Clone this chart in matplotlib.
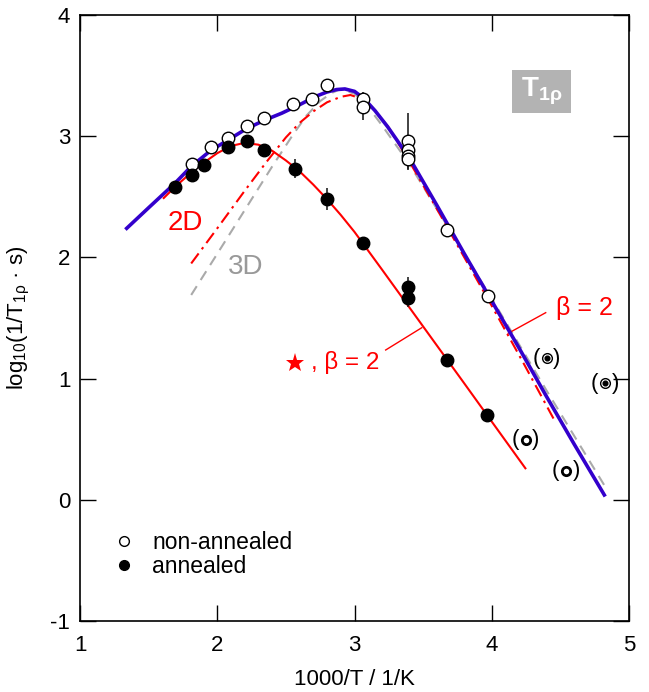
import numpy as np
import matplotlib
matplotlib.use("Agg")
import matplotlib.pyplot as plt
from matplotlib.lines import Line2D
from matplotlib.patches import Rectangle

plt.rcParams['font.family'] = ['Liberation Sans', 'DejaVu Sans']
plt.rcParams['mathtext.fontset'] = 'custom'
plt.rcParams['mathtext.rm'] = 'Liberation Sans'
plt.rcParams['mathtext.it'] = 'Liberation Sans'
plt.rcParams['mathtext.bf'] = 'Liberation Sans:bold'
plt.rcParams['mathtext.default'] = 'regular'
plt.rcParams['axes.unicode_minus'] = False

# non-annealed (open circles)
x_open   = [1.814, 1.954, 2.076, 2.214, 2.34, 2.554, 2.688, 2.80, 3.06, 3.06,
            3.387, 3.387, 3.387, 3.387, 3.674, 3.97]
y_open   = [2.771, 2.913, 2.983, 3.084, 3.153, 3.263, 3.304, 3.425, 3.304, 3.243,
            2.963, 2.89, 2.835, 2.81, 2.226, 1.684]
err_open = [0, 0, 0.03, 0, 0, 0.05, 0.05, 0, 0.06, 0.11,
            0.23, 0, 0, 0.09, 0, 0]

# annealed (filled circles)
x_fill   = [1.69, 1.814, 1.90, 2.076, 2.214, 2.34, 2.566, 2.80, 3.06, 3.387, 3.387, 3.676, 3.963]
y_fill   = [2.58, 2.68, 2.762, 2.908, 2.96, 2.884, 2.732, 2.484, 2.116, 1.758, 1.667, 1.153, 0.702]
err_fill = [0, 0, 0, 0, 0.03, 0.04, 0.08, 0.09, 0.05, 0.08, 0.08, 0, 0]

# fit curves
x_blue = [1.34, 1.5, 1.69, 1.81, 1.95, 2.08, 2.21, 2.34, 2.47, 2.6, 2.72, 2.80, 2.87, 2.93,
          3.0, 3.07, 3.15, 3.24, 3.32, 3.40, 3.6, 3.8, 4.0, 4.2, 4.4, 4.6, 4.82]
y_blue = [2.24, 2.41, 2.61, 2.75, 2.88, 2.97, 3.06, 3.13, 3.19, 3.26, 3.33, 3.365, 3.385, 3.39,
          3.37, 3.31, 3.21, 3.08, 2.95, 2.82, 2.43, 2.03, 1.64, 1.25, 0.85, 0.46, 0.04]

x_red = [1.61, 1.7, 1.8, 1.9, 2.0, 2.1, 2.2, 2.3, 2.4, 2.5, 2.6, 2.7, 2.8, 2.9, 3.0,
         3.2, 3.5, 3.8, 4.0, 4.245]
y_red = [2.49, 2.59, 2.69, 2.78, 2.86, 2.92, 2.945, 2.93, 2.88, 2.80, 2.71, 2.60, 2.48,
         2.35, 2.21, 1.90, 1.43, 0.96, 0.645, 0.26]

x_2d = [1.81, 2.0, 2.2, 2.36, 2.5, 2.6, 2.7, 2.8, 2.9, 2.97, 3.05, 3.15, 3.25, 3.4, 3.6,
        4.0, 4.23, 4.45]
y_2d = [1.95, 2.24, 2.55, 2.79, 2.99, 3.11, 3.205, 3.28, 3.325, 3.34, 3.31, 3.21, 3.07,
        2.79, 2.40, 1.60, 1.13, 0.67]

x_3d = [1.81, 2.0, 2.2, 2.4, 2.55, 2.65, 2.75, 2.83, 2.9, 3.0, 3.1, 3.2, 3.3, 3.4, 3.6,
        4.0, 4.4, 4.82]
y_3d = [1.69, 2.03, 2.39, 2.75, 3.01, 3.17, 3.29, 3.355, 3.39, 3.35, 3.24, 3.09, 2.93,
        2.77, 2.40, 1.66, 0.90, 0.12]

# bracketed points
x_bull = [4.400, 4.825]
y_bull = [1.167, 0.961]
x_ring = [4.247, 4.541]
y_ring = [0.495, 0.24]

fig = plt.figure(figsize=(6.49, 6.92), dpi=100)
ax = fig.add_axes([0.1233, 0.1026, 0.8459, 0.8757])

ax.plot(x_3d, y_3d, color='#aaaaaa', lw=1.5, ls=(0, (5, 3.5)), zorder=2)
ax.plot(x_2d, y_2d, color='red', lw=1.5, ls=(0, (6, 2.5, 1.2, 2.5)), zorder=2)
ax.plot(x_blue, y_blue, color='#3300cc', lw=2.6, zorder=3)
ax.plot(x_red, y_red, color='red', lw=1.5, zorder=3)

ax.errorbar(x_open, y_open, yerr=err_open, fmt='o', ms=9, mfc='white', mec='black',
            mew=1.0, ecolor='#222222', elinewidth=1.2, capsize=0, zorder=5)
ax.errorbar(x_fill, y_fill, yerr=err_fill, fmt='o', ms=9, mfc='black', mec='black',
            mew=1.0, ecolor='#222222', elinewidth=1.2, capsize=0, zorder=5)

ax.plot(x_bull, y_bull, 'o', ms=7, mfc='white', mec='black', mew=1.0, zorder=5)
ax.plot(x_bull, y_bull, 'o', ms=3.4, mfc='black', mec='black', zorder=6)
ax.plot(x_ring, y_ring, 'o', ms=6, mfc='white', mec='black', mew=2.0, zorder=5)
for xb, yb in zip(x_bull + x_ring, y_bull + y_ring):
    ax.text(xb - 0.075, yb, '(', fontsize=16, ha='center', va='center')
    ax.text(xb + 0.075, yb, ')', fontsize=16, ha='center', va='center')

# annotations
ax.text(1.765, 2.28, '2D', color='red', fontsize=20, ha='center', va='center')
ax.text(2.206, 1.92, '3D', color='#999999', fontsize=20, ha='center', va='center')
ax.text(4.672, 1.58, 'β = 2', color='red', fontsize=18, ha='center', va='center')
ax.plot([4.393, 4.12], [1.544, 1.374], color='red', lw=1.0)
ax.plot([2.567], [1.131], '*', color='red', ms=14, mew=0)
ax.text(2.68, 1.135, ', β = 2', color='red', fontsize=17.5, ha='left', va='center')
ax.plot([3.227, 3.49], [1.236, 1.42], color='red', lw=1.0)

ax.add_patch(Rectangle((0.787, 0.838), 0.1075, 0.071, transform=ax.transAxes,
                       facecolor='#b3b3b3', edgecolor='none', zorder=1))
ax.text(0.8408, 0.8745, r'$\mathbf{T_{1\rho}}$', transform=ax.transAxes, color='white',
        fontsize=20, ha='center', va='center', zorder=2)

ax.set_xlim(1, 5)
ax.set_ylim(-1, 4)
ax.set_xticks([1, 2, 3, 4, 5])
ax.set_yticks([-1, 0, 1, 2, 3, 4])
ax.tick_params(direction='in', length=11.5, width=1.0, top=True, right=True,
               labelsize=16)
ax.tick_params(axis='x', pad=10)
ax.tick_params(axis='y', pad=7)
for s in ax.spines.values():
    s.set_linewidth(1.2)
ax.set_xlabel('1000/T / 1/K', fontsize=16)
ax.set_ylabel(r'log$_{10}$(1/T$_{1\rho}$ · s)', fontsize=16)
ax.xaxis.set_label_coords(0.5, -0.08)
ax.yaxis.set_label_coords(-0.088, 0.5)

handles = [Line2D([], [], ls='none', marker='o', ms=7, mfc='white', mec='black'),
           Line2D([], [], ls='none', marker='o', ms=7, mfc='black', mec='black')]
ax.legend(handles, ['non-annealed', 'annealed'], loc='lower left',
          bbox_to_anchor=(0.035, 0.045), frameon=False, fontsize=16.5,
          handlelength=0.8, handletextpad=0.8, labelspacing=0.05, borderpad=0.2)

fig.savefig('out.png', dpi=100)
